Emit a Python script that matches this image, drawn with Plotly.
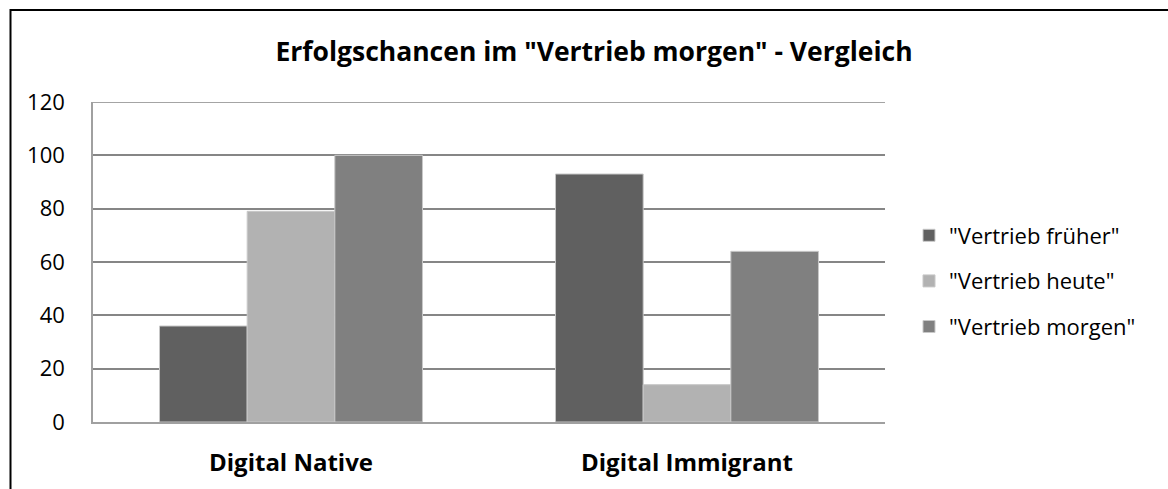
import plotly.graph_objects as go

categories = ["Digital Native", "Digital Immigrant"]
series_names = ['"Vertrieb früher"', '"Vertrieb heute"', '"Vertrieb morgen"']
frueher = [36, 93]
heute = [79, 14]
morgen = [100, 64]
series_values = [frueher, heute, morgen]
colors = ["#606060", "#b2b2b2", "#808080"]
y_ticks = [0, 20, 40, 60, 80, 100, 120]

W, H = 1168, 489
L, R, T, B = 93, 885, 102, 422

fig = go.Figure()
for i, (name, vals) in enumerate(zip(series_names, series_values)):
    fig.add_trace(go.Bar(
        x=categories, y=vals, name=name, legendgroup=str(i),
        marker=dict(color=colors[i], line=dict(color="#c8c8c8", width=1)),
    ))

fontfam = "Open Sans, Lato, Noto Sans, sans-serif"
fig.update_layout(
    width=W, height=H,
    margin=dict(l=L, r=W - R, t=T, b=H - B, autoexpand=False),
    paper_bgcolor="white", plot_bgcolor="white",
    barmode="group", bargap=0.336, bargroupgap=0,
    font=dict(family=fontfam, size=22, color="#000000"),
    title=dict(text='<b>Erfolgschancen im "Vertrieb morgen" - Vergleich</b>',
               x=594 / W, xanchor="center", xref="container",
               y=1 - 52 / H, yanchor="middle", yref="container",
               font=dict(size=26.5, family=fontfam, color="#000000")),
    legend=dict(x=(909 - L) / (R - L), xanchor="left", y=(B - 281) / (B - T), yanchor="middle",
                traceorder="grouped", tracegroupgap=14, font=dict(size=22),
                bgcolor="rgba(0,0,0,0)", itemwidth=30),
    showlegend=True,
)
fig.update_yaxes(range=[0, 120], tickvals=y_ticks, showgrid=True, gridcolor="#868686", gridwidth=1.5,
                 showline=True, linecolor="#a0a0a0", linewidth=1.5, zeroline=False,
                 ticks="", ticklabelstandoff=22, tickfont=dict(size=22))
fig.update_xaxes(showline=True, linecolor="#a0a0a0", linewidth=1.5, ticks="",
                 ticklabelstandoff=18, tickfont=dict(size=24),
                 tickvals=categories, ticktext=["<b>%s</b>" % c for c in categories])

# top gridline at the range maximum (Plotly omits it at the plot edge)
fig.add_shape(type="line", xref="paper", yref="y", x0=0, x1=1, y0=y_ticks[-1], y1=y_ticks[-1],
              line=dict(color="#868686", width=1.5), layer="below")

fig.add_shape(type="rect", xref="paper", yref="paper",
              x0=(10.5 - L) / (R - L), x1=(W + 20 - L) / (R - L),
              y0=-(H + 20 - B) / (B - T), y1=(B - 10) / (B - T),
              line=dict(color="#000000", width=2), fillcolor="rgba(0,0,0,0)", layer="above")

fig.write_html("out.html", config={"displayModeBar": False},
               post_script="document.body.style.margin='0';document.body.style.overflow='hidden';")
